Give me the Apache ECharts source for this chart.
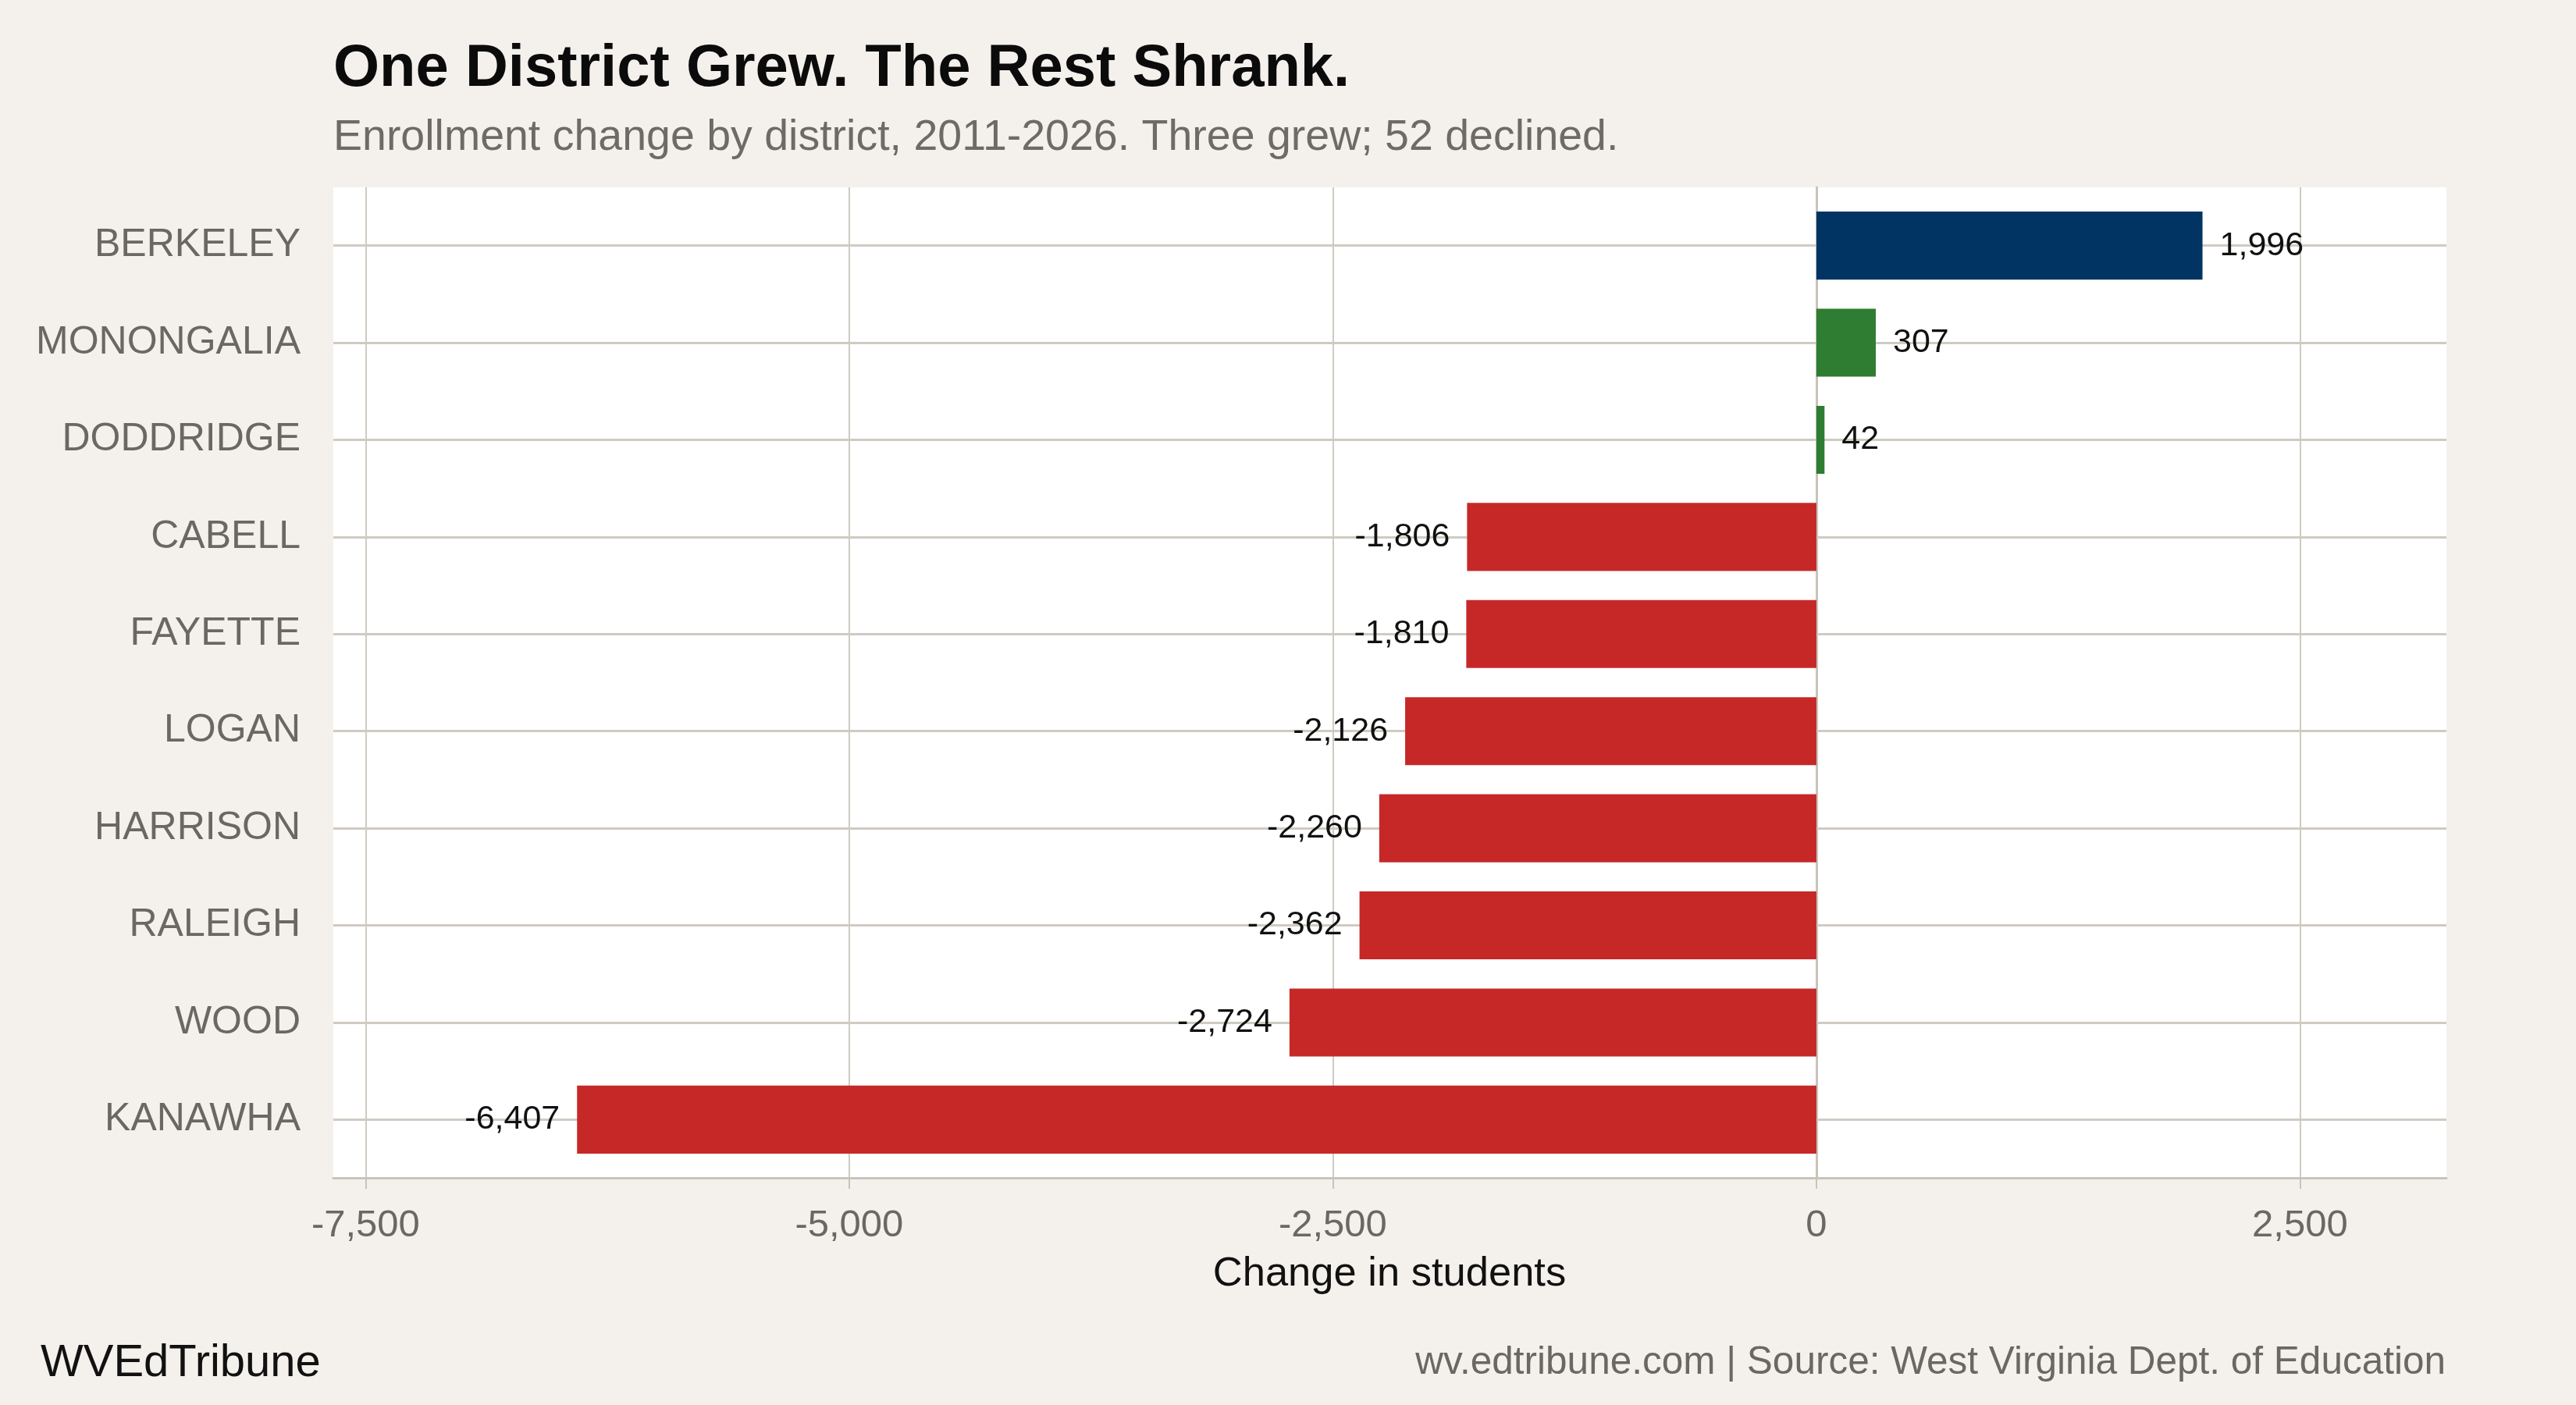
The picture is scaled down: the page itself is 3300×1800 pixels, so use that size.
<!DOCTYPE html>
<html>
<head>
<meta charset="utf-8">
<script src="https://cdn.jsdelivr.net/npm/echarts@6/dist/echarts.min.js"></script>
<style>
html,body{margin:0;padding:0;background:#f4f1ec;}
#chart{width:3300px;height:1800px;}
</style>
</head>
<body>
<div id="chart"></div>
<script>
// ---- data ----
const categories = ['BERKELEY','MONONGALIA','DODDRIDGE','CABELL','FAYETTE','LOGAN','HARRISON','RALEIGH','WOOD','KANAWHA'];
const changes = [1996, 307, 42, -1806, -1810, -2126, -2260, -2362, -2724, -6407];
const xTickValues = [-7500, -5000, -2500, 0, 2500];
const xMin = -7667, xMax = 3257;
const highlightName = 'BERKELEY';

const FONT = '"Liberation Sans", Arial, Helvetica, sans-serif';
const GRID_COLOR = '#d0cbc2';
const AXIS_COLOR = '#c9c4bb';
const TEXT_GRAY = '#6b6862';
const fmt = v => Number(v).toLocaleString('en-US');

const colorFor = (name, v) => name === highlightName ? '#023463' : (v > 0 ? '#2e7d32' : '#c62828');

const chart = echarts.init(document.getElementById('chart'), null, {renderer: 'canvas'});

const plot = {left: 427, right: 166, top: 240, bottom: 1509};
const band = (plot.bottom - plot.top) / (categories.length + 0.2);
const barGrid = {top: plot.top + band * 0.1, bottom: plot.bottom - band * 0.1};

chart.setOption({
  backgroundColor: '#f4f1ec',
  animation: false,
  textStyle: {fontFamily: FONT},
  grid: [
    {left: plot.left, right: plot.right, top: plot.top, height: plot.bottom - plot.top,
     show: true, backgroundColor: '#ffffff', borderWidth: 0, containLabel: false, outerBoundsMode: 'none', z: 0},
    {left: plot.left, right: plot.right, top: barGrid.top, height: barGrid.bottom - barGrid.top,
     show: false, containLabel: false, outerBoundsMode: 'none'}
  ],
  xAxis: [
    {gridIndex: 0, type: 'value', min: xMin, max: xMax,
     axisLine: {show: true, onZero: false, lineStyle: {color: AXIS_COLOR, width: 3}},
     axisTick: {show: true, customValues: xTickValues, length: 14, lineStyle: {color: AXIS_COLOR, width: 2}},
     axisLabel: {show: true, customValues: xTickValues, formatter: fmt, fontSize: 49, color: TEXT_GRAY, margin: 37, fontFamily: FONT},
     splitLine: {show: true, lineStyle: {color: GRID_COLOR, width: 2}}},
    {gridIndex: 1, type: 'value', min: xMin, max: xMax, show: false,
     splitLine: {show: false}}
  ],
  yAxis: [
    {gridIndex: 0, type: 'value', min: 0, max: 1,
     axisLine: {show: true, lineStyle: {color: AXIS_COLOR, width: 3}},
     axisTick: {show: false}, axisLabel: {show: false}, splitLine: {show: false}},
    {gridIndex: 1, type: 'category', data: categories, inverse: true,
     axisLine: {show: false},
     axisTick: {show: true, alignWithLabel: true, length: 14, lineStyle: {color: AXIS_COLOR, width: 3}},
     axisLabel: {fontSize: 50, color: TEXT_GRAY, margin: 42, fontFamily: FONT},
     splitLine: {show: false}}
  ],
  series: [{
    type: 'bar',
    xAxisIndex: 1, yAxisIndex: 1,
    barWidth: '70%',
    z: 3,
    data: changes.map((v, i) => ({
      value: v,
      itemStyle: {color: colorFor(categories[i], v)},
      label: {position: v >= 0 ? 'right' : 'left'}
    })),
    label: {show: true, distance: 22, color: '#111111', fontSize: 43, fontFamily: FONT,
            formatter: p => fmt(p.value)},
    markLine: {
      silent: true, symbol: 'none', z: 1,
      label: {show: false},
      lineStyle: {color: GRID_COLOR, width: 3, type: 'solid'},
      data: categories.map(c => ({yAxis: c}))
    }
  }],
  graphic: [
    {type: 'text', x: 427, y: 89, z: 10, style: {text: 'One District Grew. The Rest Shrank.', fill: '#0b0b0b',
      fontSize: 76, fontWeight: 'bold', fontFamily: FONT, align: 'left', verticalAlign: 'middle'}},
    {type: 'text', x: 427, y: 177, z: 10, style: {text: 'Enrollment change by district, 2011-2026. Three grew; 52 declined.', fill: '#6e6b66',
      fontSize: 55.5, fontFamily: FONT, align: 'left', verticalAlign: 'middle'}},
    {type: 'text', x: 1780, y: 1633, z: 10, style: {text: 'Change in students', fill: '#111111',
      fontSize: 52.5, fontFamily: FONT, align: 'center', verticalAlign: 'middle'}},
    {type: 'text', x: 52, y: 1747, z: 10, style: {text: 'WVEdTribune', fill: '#111111',
      fontSize: 58, fontFamily: FONT, align: 'left', verticalAlign: 'middle'}},
    {type: 'text', x: 3133, y: 1746, z: 10, style: {text: 'wv.edtribune.com | Source: West Virginia Dept. of Education', fill: '#6b6862',
      fontSize: 49.5, fontFamily: FONT, align: 'right', verticalAlign: 'middle'}}
  ]
});
</script>
</body>
</html>
